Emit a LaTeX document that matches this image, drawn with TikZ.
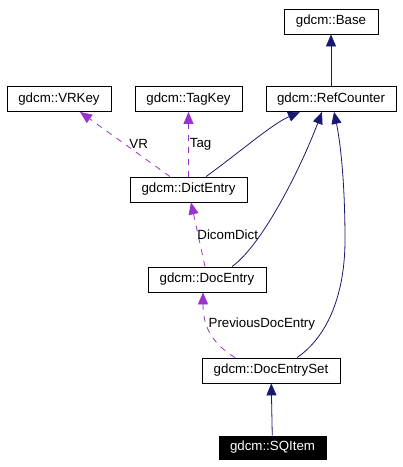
\documentclass[tikz,border=0pt]{standalone}
\usepackage{fontspec}
\setmainfont{Liberation Sans}
\usepackage{xcolor}
\usetikzlibrary{arrows.meta,positioning}
\definecolor{inhblue}{RGB}{25,25,112}
\definecolor{usepurple}{RGB}{154,50,205}

\begin{document}
\begin{tikzpicture}[
        x=1pt, y=-1pt,
        every node/.style={font=\fontsize{13.3}{15}\selectfont},
        cls/.style={rectangle, draw, line width=0.8pt, inner sep=0pt, minimum height=25pt, minimum width=#1},
        inherit/.style={draw=inhblue, line width=0.8pt, -{Triangle[length=12pt,width=10pt]}},
        uses/.style={draw=usepurple, line width=0.8pt, dash pattern=on 6pt off 6pt, -{Triangle[length=12pt,width=10pt]}},
        edgelabel/.style={anchor=west, inner sep=1pt}
    ]
        \useasboundingbox (0,0) rectangle (403,467);
        \node[cls=94pt] (base) at (331,21.5) {gdcm::Base};
        \node[cls=104pt] (vrkey) at (59,99) {gdcm::VRKey};
        \node[cls=107pt] (tagkey) at (188.5,99) {gdcm::TagKey};
        \node[cls=130pt] (refcounter) at (331,99) {gdcm::RefCounter};
        \node[cls=117pt] (dictentry) at (188.5,189.5) {gdcm::DictEntry};
        \node[cls=118pt] (docentry) at (207,279.5) {gdcm::DocEntry};
        \node[cls=138pt] (docentryset) at (271,370.5) {gdcm::DocEntrySet};
        \node[cls=107pt, minimum height=23pt, fill=black, text=white] (sqitem) at (272.5,447.5) {gdcm::SQItem};

        \draw[inherit] (refcounter) -- (base);
        \draw[inherit] ([xshift=17.5pt]dictentry.north) .. controls (240,152) and (272,124) .. ([xshift=-31pt]refcounter.south);
        \draw[inherit] ([xshift=25pt]docentry.north) .. controls (262,245) and (300,170) .. ([xshift=-9pt]refcounter.south);
        \draw[inherit] ([xshift=26pt]docentryset.north) .. controls (330,335) and (345,290) .. (345,240)
            .. controls (345,180) and (340,140) .. ([xshift=3pt]refcounter.south);
        \draw[inherit] (sqitem) -- (docentryset);

        \draw[uses] ([xshift=-18.5pt]dictentry.north) -- node[edgelabel, pos=0.5, xshift=3pt] {VR} ([xshift=21pt]vrkey.south);
        \draw[uses] (dictentry.north) -- node[edgelabel, pos=0.5] {Tag} (tagkey.south);
        \draw[uses] ([xshift=-2pt]docentry.north) -- node[edgelabel, pos=0.5, xshift=-2pt] {DicomDict} ([xshift=2.5pt]dictentry.south);
        \draw[uses] ([xshift=-36pt]docentryset.north) .. controls (215,345) and (203,330) .. node[edgelabel, pos=0.65] {PreviousDocEntry} ([xshift=-4pt]docentry.south);
    \end{tikzpicture}
\end{document}
